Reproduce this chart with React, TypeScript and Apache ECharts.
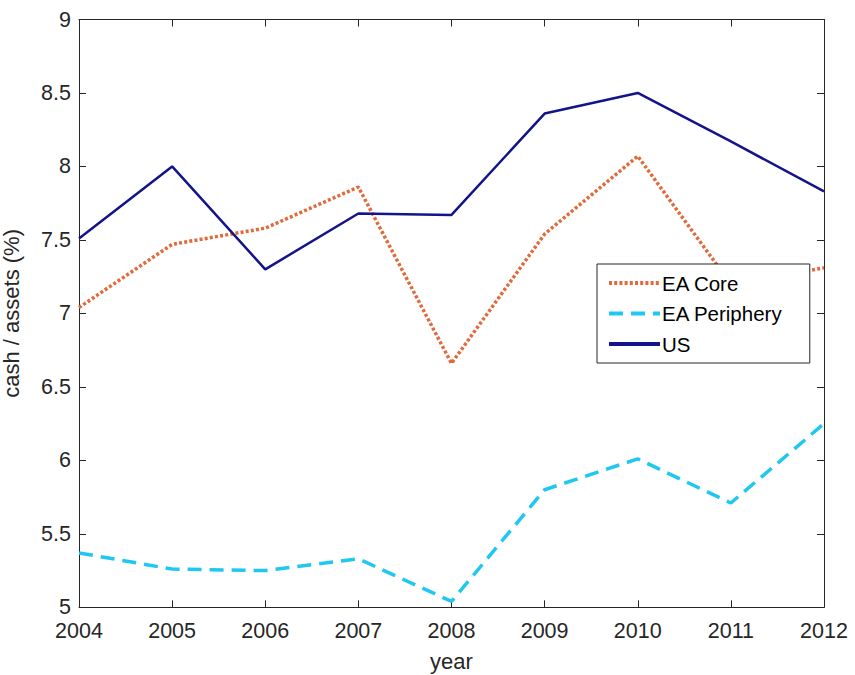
import React, { useEffect, useRef } from "react";
import * as echarts from "echarts";

const years = ["2004", "2005", "2006", "2007", "2008", "2009", "2010", "2011", "2012"];
const eaCore = [7.04, 7.47, 7.58, 7.86, 6.66, 7.54, 8.07, 7.2, 7.31];
const eaPeriphery = [5.37, 5.26, 5.25, 5.33, 5.04, 5.8, 6.01, 5.71, 6.25];
const us = [7.51, 8.0, 7.3, 7.68, 7.67, 8.36, 8.5, 8.17, 7.83];
const yTicks = { min: 5, max: 9, interval: 0.5 };

const FONT = "'Liberation Sans', Arial, Helvetica, sans-serif";
const AXIS_COLOR = "#262626";

export default function App() {
  const ref = useRef<HTMLDivElement>(null);
  useEffect(() => {
    document.body.style.margin = "0";
    if (!ref.current) return;
    const chart = echarts.init(ref.current, undefined, { renderer: "svg" });
    const axisLine = { show: true, lineStyle: { color: AXIS_COLOR, width: 1 } };
    const tick = { show: true, inside: true, length: 7, lineStyle: { color: AXIS_COLOR, width: 1 } };
    chart.setOption({
      animation: false,
      backgroundColor: "#ffffff",
      textStyle: { fontFamily: FONT },
      grid: { left: 79, right: 31, top: 19.5, bottom: 67.7, containLabel: false, outerBoundsMode: "none" },
      legend: {
        show: true,
        orient: "vertical",
        left: 597,
        top: 264,
        itemWidth: 51,
        itemHeight: 14,
        itemGap: 9.5,
        padding: [8.5, 27, 8.5, 10],
        borderColor: AXIS_COLOR,
        borderWidth: 1,
        backgroundColor: "#ffffff",
        itemStyle: { opacity: 0 },
        lineStyle: { width: 4 },
        textStyle: { fontSize: 20.5, color: "#000000", fontFamily: FONT, padding: [0, 0, 0, -3] },
        data: ["EA Core", "EA Periphery", "US"],
      },
      xAxis: [
        {
          type: "category",
          data: years,
          boundaryGap: false,
          position: "bottom",
          axisLine,
          axisTick: { ...tick, alignWithLabel: true },
          splitLine: { show: false },
          axisLabel: { color: AXIS_COLOR, fontSize: 21.5, lineHeight: 16, margin: 16, fontFamily: FONT },
          name: "year",
          nameLocation: "middle",
          nameGap: 43,
          nameTextStyle: { color: AXIS_COLOR, fontSize: 22, fontFamily: FONT },
        },
        {
          type: "category",
          data: years,
          boundaryGap: false,
          position: "top",
          axisLine,
          axisTick: tick,
          axisLabel: { show: false },
          splitLine: { show: false },
        },
      ],
      yAxis: [
        {
          type: "value",
          min: yTicks.min,
          max: yTicks.max,
          interval: yTicks.interval,
          position: "left",
          axisLine,
          axisTick: tick,
          splitLine: { show: false },
          axisLabel: { color: AXIS_COLOR, fontSize: 21.5, lineHeight: 16, margin: 8, fontFamily: FONT },
          name: "cash / assets (%)",
          nameLocation: "middle",
          nameGap: 57,
          nameTextStyle: { color: AXIS_COLOR, fontSize: 22, fontFamily: FONT },
        },
        {
          type: "value",
          min: yTicks.min,
          max: yTicks.max,
          interval: yTicks.interval,
          position: "right",
          axisLine,
          axisTick: tick,
          axisLabel: { show: false },
          splitLine: { show: false },
        },
      ],
      series: [
        {
          name: "EA Core",
          type: "line",
          data: eaCore,
          showSymbol: false,
          symbol: "none",
          color: "#E2693A",
          lineStyle: { color: "#E2693A", width: 3.5, type: [3, 2.2], cap: "butt" },
          z: 3,
        },
        {
          name: "EA Periphery",
          type: "line",
          data: eaPeriphery,
          showSymbol: false,
          symbol: "none",
          color: "#1EC8F0",
          lineStyle: { color: "#1EC8F0", width: 3.5, type: [14, 8], cap: "butt" },
          z: 3,
        },
        {
          name: "US",
          type: "line",
          data: us,
          showSymbol: false,
          symbol: "none",
          color: "#14148A",
          lineStyle: { color: "#14148A", width: 2.5, type: "solid" },
          z: 3,
        },
      ],
    });
    return () => chart.dispose();
  }, []);
  return <div ref={ref} style={{ width: 855, height: 675 }} />;
}
